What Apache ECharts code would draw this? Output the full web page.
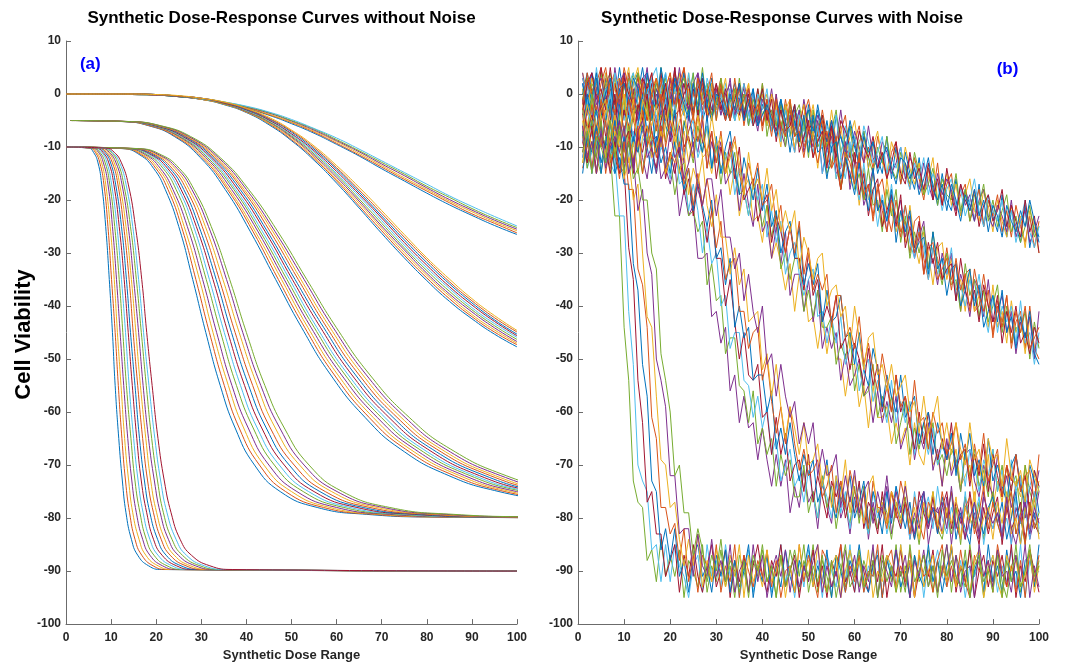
<!DOCTYPE html>
<html>
<head>
<meta charset="utf-8">
<script src="https://cdn.jsdelivr.net/npm/echarts@6/dist/echarts.min.js"></script>
<style>html,body{margin:0;padding:0;background:#fff}#chart{width:1071px;height:667px}</style>
</head>
<body>
<div id="chart"></div>
<script>
// ---------- Panel (a): smooth curves ----------
const doseGrid = [0,5,10,15,20,25,30,35,40,45,50,55,60,65,70,75,80,85,90,95,100];
// family A: 0 -> about -26 at dose 100 (tight bundle)
const famA = [
[0,0,0,-0.1,-0.2,-0.5,-1.0,-1.7,-2.7,-4.0,-5.6,-7.4,-9.5,-11.7,-14.1,-16.4,-18.7,-20.9,-22.9,-24.8,-26.5],
[0,0,0,-0.1,-0.2,-0.5,-1.0,-1.7,-2.6,-3.9,-5.4,-7.2,-9.3,-11.5,-13.8,-16.1,-18.3,-20.5,-22.6,-24.4,-26.2],
[0,0,0,-0.1,-0.2,-0.5,-0.9,-1.6,-2.5,-3.8,-5.3,-7.0,-9.0,-11.2,-13.5,-15.8,-18.0,-20.2,-22.2,-24.1,-25.8],
[0,0,0,-0.1,-0.2,-0.5,-0.9,-1.6,-2.5,-3.6,-5.1,-6.8,-8.8,-10.9,-13.2,-15.4,-17.7,-19.9,-21.9,-23.8,-25.5],
[0,0,0,-0.1,-0.2,-0.5,-0.9,-1.5,-2.4,-3.5,-5.0,-6.6,-8.6,-10.7,-12.9,-15.1,-17.4,-19.5,-21.6,-23.5,-25.2],
[0,0,0,-0.1,-0.2,-0.4,-0.8,-1.5,-2.3,-3.4,-4.8,-6.5,-8.3,-10.4,-12.6,-14.8,-17.0,-19.2,-21.2,-23.1,-24.9]
];
// family B: 0 -> about -46 at dose 100
const famB = [
[0,0,0,0,-0.2,-0.5,-1.0,-2.0,-3.5,-5.8,-8.8,-12.5,-16.8,-21.5,-26.3,-30.9,-35.2,-39.1,-42.4,-45.3,-47.7],
[0,0,0,0,-0.2,-0.4,-1.0,-1.9,-3.4,-5.6,-8.6,-12.2,-16.4,-21.1,-25.8,-30.4,-34.7,-38.6,-42.0,-44.9,-47.3],
[0,0,0,0,-0.2,-0.4,-1.0,-1.9,-3.4,-5.5,-8.3,-11.9,-16.1,-20.6,-25.3,-29.9,-34.2,-38.1,-41.6,-44.5,-47.0],
[0,0,0,0,-0.2,-0.4,-0.9,-1.8,-3.3,-5.3,-8.1,-11.6,-15.7,-20.2,-24.9,-29.4,-33.8,-37.7,-41.1,-44.1,-46.7],
[0,0,0,0,-0.1,-0.4,-0.9,-1.8,-3.2,-5.2,-7.9,-11.3,-15.3,-19.8,-24.4,-29.0,-33.3,-37.2,-40.7,-43.7,-46.3],
[0,0,0,0,-0.1,-0.4,-0.9,-1.7,-3.1,-5.0,-7.7,-11.0,-15.0,-19.3,-23.9,-28.5,-32.8,-36.7,-40.3,-43.3,-45.9],
[0,0,0,0,-0.1,-0.4,-0.8,-1.7,-3.0,-4.9,-7.5,-10.7,-14.6,-18.9,-23.4,-28.0,-32.3,-36.3,-39.8,-42.9,-45.6],
[0,0,0,0,-0.1,-0.4,-0.8,-1.6,-2.9,-4.7,-7.2,-10.4,-14.2,-18.5,-23.0,-27.5,-31.8,-35.8,-39.4,-42.6,-45.3],
[0,0,0,0,-0.1,-0.4,-0.8,-1.6,-2.8,-4.6,-7.0,-10.1,-13.9,-18.1,-22.5,-27.0,-31.3,-35.4,-39.0,-42.2,-44.9],
[0,0,0,0,-0.1,-0.3,-0.8,-1.5,-2.7,-4.4,-6.8,-9.8,-13.5,-17.6,-22.0,-26.5,-30.9,-34.9,-38.6,-41.8,-44.6]
];
// families C, D, E: the dose at which each curve crosses each viability level
const levelsC = [-5,-5.2,-6,-8,-12,-18,-26,-35,-44,-53,-61,-67,-72,-75,-77];
const famC = [
[1,12.5,18.4,24.0,29.8,35.3,40.9,46.5,52.2,58.7,66.3,74.2,84.9,96.0,109.1],
[1,12.7,18.6,24.3,30.2,35.8,41.5,47.1,52.9,59.5,67.2,75.3,86.1,97.3,110.6],
[1,12.8,18.9,24.7,30.6,36.2,42.0,47.8,53.6,60.3,68.1,76.3,87.3,98.6,112.1],
[1,13.0,19.1,25.0,31.0,36.7,42.6,48.4,54.3,61.1,69.0,77.3,88.4,99.9,113.6],
[1,13.2,19.4,25.3,31.4,37.2,43.1,49.0,55.0,61.9,69.9,78.3,89.6,101.3,115.1],
[1,13.3,19.6,25.6,31.8,37.6,43.6,49.6,55.6,62.6,70.7,79.2,90.6,102.4,116.4],
[1,13.5,19.9,25.9,32.2,38.1,44.2,50.2,56.4,63.4,71.6,80.2,91.7,103.7,117.8],
[1,13.7,20.1,26.3,32.6,38.6,44.7,50.8,57.1,64.2,72.5,81.2,92.9,105.0,119.3],
[1,13.8,20.4,26.6,33.0,39.1,45.3,51.5,57.8,65.0,73.4,82.2,94.1,106.3,120.8],
[1,14.0,20.6,26.9,33.4,39.5,45.9,52.1,58.5,65.8,74.3,83.2,95.2,107.6,122.3],
[1,14.2,20.9,27.2,33.8,40.0,46.4,52.8,59.2,66.6,75.2,84.2,96.4,108.9,123.8],
[1,14.3,21.1,27.6,34.2,40.5,47.0,53.4,59.9,67.4,76.1,85.3,97.6,110.3,125.3]
];
const levelsD = [-10,-10.3,-11.5,-14,-18,-25,-35,-45,-55,-63,-70,-75,-78,-79.3,-79.8,-80];
const famD = [
[0,12.5,16.4,19.4,22.0,25.0,28.1,31.0,34.2,37.5,41.8,47.5,55.7,66.7,81.6,130],
[0,12.8,16.8,19.9,22.6,25.6,28.8,31.8,35.1,38.4,42.9,48.7,57.1,68.4,83.7,130],
[0,13.1,17.2,20.4,23.2,26.2,29.6,32.6,36.0,39.4,43.9,50.0,58.5,70.1,85.8,130],
[0,13.5,17.7,20.9,23.7,26.9,30.3,33.4,36.8,40.4,45.0,51.2,60.0,71.8,87.9,130],
[0,13.8,18.1,21.5,24.4,27.6,31.1,34.3,37.8,41.5,46.2,52.6,61.6,73.8,90.2,130],
[0,14.1,18.6,22.0,25.0,28.3,31.8,35.1,38.7,42.4,47.3,53.8,63.0,75.5,92.3,130],
[0,14.5,19.0,22.5,25.5,28.9,32.6,35.9,39.6,43.4,48.4,55.0,64.5,77.2,94.5,130],
[0,14.8,19.4,23.0,26.1,29.5,33.3,36.7,40.5,44.4,49.5,56.3,65.9,78.9,96.6,130],
[0,15.1,19.8,23.5,26.7,30.2,34.0,37.5,41.4,45.3,50.6,57.5,67.4,80.7,98.7,130],
[0,15.5,20.3,24.1,27.3,30.9,34.8,38.4,42.4,46.4,51.8,58.9,69.0,82.6,101,130],
[0,15.8,20.7,24.6,27.9,31.6,35.6,39.2,43.2,47.4,52.8,60.1,70.4,84.3,103,130],
[0,16.1,21.2,25.1,28.4,32.2,36.3,40.0,44.1,48.4,53.9,61.3,71.8,86.0,105,130]
];
const levelsE = [-10,-10.2,-11,-13,-17,-25,-35,-45,-55,-65,-73,-79,-84,-87,-89,-89.7,-90];
const famE = [
[0,5.0,6.1,7.1,7.9,8.8,9.6,10.3,10.9,11.7,12.5,13.3,14.5,15.9,18.3,21.2,100],
[0,5.3,6.5,7.5,8.4,9.3,10.1,10.9,11.6,12.4,13.2,14.1,15.3,16.8,19.3,22.4,100],
[0,5.6,6.8,7.9,8.8,9.8,10.7,11.4,12.2,13.0,13.9,14.8,16.2,17.7,20.4,23.6,100],
[0,5.9,7.2,8.3,9.3,10.3,11.2,12.0,12.8,13.7,14.6,15.6,17.0,18.6,21.4,24.8,100],
[0,6.1,7.5,8.7,9.7,10.8,11.8,12.6,13.4,14.4,15.3,16.4,17.8,19.5,22.4,26.0,100],
[0,6.4,7.9,9.1,10.1,11.3,12.3,13.2,14.0,15.0,16.0,17.1,18.6,20.4,23.5,27.2,100],
[0,6.7,8.2,9.5,10.6,11.8,12.9,13.8,14.7,15.7,16.7,17.9,19.4,21.3,24.5,28.4,100],
[0,7.0,8.6,9.9,11.0,12.3,13.4,14.3,15.3,16.3,17.4,18.6,20.3,22.2,25.5,29.6,100],
[0,7.3,8.9,10.3,11.5,12.8,14.0,14.9,15.9,17.0,18.1,19.4,21.1,23.1,26.6,30.8,100],
[0,7.6,9.3,10.7,11.9,13.3,14.5,15.5,16.5,17.7,18.8,20.1,21.9,24.0,27.6,32.0,100],
[0,7.9,9.6,11.1,12.4,13.8,15.0,16.1,17.1,18.3,19.6,20.9,22.7,24.9,28.7,33.2,100],
[0,8.1,10.0,11.5,12.8,14.3,15.6,16.7,17.8,19.0,20.3,21.6,23.5,25.8,29.7,34.4,100],
[0,8.4,10.3,11.9,13.3,14.8,16.1,17.2,18.4,19.7,21.0,22.4,24.4,26.7,30.7,35.6,100],
[0,8.8,10.7,12.3,13.8,15.4,16.8,17.9,19.1,20.4,21.8,23.3,25.3,27.8,31.9,37.0,100]
];

// ---------- Panel (b): noisy curves, one value per dose 1..100 ----------
const noisyDose = [1,2,3,4,5,6,7,8,9,10,11,12,13,14,15,16,17,18,19,20,21,22,23,24,25,26,27,28,29,30,31,32,33,34,35,36,37,38,39,40,41,42,43,44,45,46,47,48,49,50,51,52,53,54,55,56,57,58,59,60,61,62,63,64,65,66,67,68,69,70,71,72,73,74,75,76,77,78,79,80,81,82,83,84,85,86,87,88,89,90,91,92,93,94,95,96,97,98,99,100];
const noisyA = [
[2,-3,4,1,-4,3,0,-2,5,-1,-4,2,4,-3,1,-5,3,-1,2,-2,4,0,-3,2,-4,3,1,-4,2,-3,1,-5,-1,2,-4,0,-6,1,-5,0,-3,-6,-1,-7,-2,-8,-3,-5,-9,-2,-7,-3,-10,-5,-11,-4,-8,-12,-6,-10,-13,-7,-14,-9,-12,-15,-8,-16,-10,-17,-11,-15,-18,-12,-19,-14,-17,-21,-15,-20,-22,-16,-23,-18,-21,-24,-17,-25,-20,-23,-26,-19,-27,-22,-25,-28,-21,-29,-24,-27],
[-1,3,-4,2,5,-2,1,-3,0,4,-2,-5,1,3,-1,4,-3,2,-4,0,3,-2,5,-4,0,2,-3,1,-5,-1,3,-4,0,-3,2,-5,1,-2,-6,2,-5,0,-3,-7,-1,-6,-2,-9,-4,-1,-6,-9,-3,-8,-5,-11,-7,-4,-12,-9,-6,-13,-10,-14,-8,-12,-16,-11,-9,-17,-13,-18,-12,-16,-20,-14,-19,-13,-21,-17,-15,-22,-19,-17,-24,-21,-18,-25,-20,-23,-19,-26,-22,-27,-21,-25,-28,-23,-29,-24],
[4,0,-3,3,-1,-5,2,4,-2,1,5,-3,0,-4,2,-1,3,-5,1,4,-2,1,-4,4,-3,0,3,-2,-5,1,-3,0,-5,1,-2,-4,2,-6,-1,-3,0,-5,-2,-8,-3,-1,-7,-4,-9,-6,-2,-8,-5,-10,-3,-9,-6,-12,-8,-5,-11,-8,-14,-10,-7,-13,-15,-9,-12,-16,-10,-14,-17,-13,-19,-16,-12,-20,-18,-15,-21,-17,-23,-19,-16,-22,-24,-18,-21,-26,-20,-24,-27,-21,-26,-23,-29,-22,-25,-30],
[-3,1,4,-2,0,3,-4,5,-1,2,-3,1,-5,3,4,-2,0,-4,2,-1,5,-3,2,-1,-5,4,0,-3,2,-4,0,-2,3,-5,-1,1,-4,0,-5,-2,-4,1,-6,-3,-8,-2,-5,-8,-1,-6,-8,-4,-6,-11,-5,-9,-3,-10,-12,-7,-10,-13,-6,-12,-14,-9,-11,-15,-13,-10,-16,-12,-14,-18,-13,-17,-20,-15,-19,-16,-18,-22,-17,-21,-19,-24,-20,-18,-23,-25,-21,-23,-26,-20,-27,-24,-22,-28,-26,-23],
[1,-4,2,0,4,-3,-1,3,-5,2,0,4,-2,-4,3,1,-3,5,-1,-3,1,4,-1,-4,2,-2,5,-3,0,-5,2,-3,-1,-5,3,-3,-1,-6,1,-4,-2,-5,-1,-6,-3,-8,-4,-2,-7,-3,-9,-6,-4,-10,-7,-3,-11,-8,-6,-13,-9,-7,-12,-15,-10,-13,-8,-14,-16,-11,-14,-17,-11,-15,-19,-17,-14,-21,-16,-19,-20,-15,-22,-18,-24,-19,-21,-17,-24,-20,-25,-22,-19,-26,-23,-28,-25,-21,-27,-25],
[-2,2,-5,1,-1,4,0,-3,3,-4,4,-1,1,-4,-2,3,5,-2,-4,1,-1,3,-4,0,4,-5,-1,2,-3,0,-4,2,-2,-5,0,-3,-5,0,-4,1,-6,-3,-5,-1,-7,-4,-6,-3,-9,-5,-4,-7,-10,-6,-8,-4,-12,-6,-11,-8,-12,-6,-9,-13,-11,-8,-15,-12,-14,-10,-15,-18,-13,-16,-12,-19,-15,-17,-22,-18,-16,-21,-18,-23,-20,-16,-22,-25,-19,-22,-24,-20,-25,-22,-28,-24,-20,-26,-29,-25],
[3,-1,1,-4,5,0,-3,2,-2,4,-4,0,3,-1,-5,2,-2,4,-3,3,-3,0,2,-3,1,-4,3,-1,-4,2,-2,-5,1,-3,-4,2,-2,-4,1,-6,-1,-4,-7,-2,-5,-3,-8,-6,-2,-7,-5,-8,-4,-9,-6,-12,-5,-7,-10,-13,-7,-10,-12,-8,-14,-11,-16,-13,-9,-15,-17,-11,-16,-14,-18,-13,-20,-16,-21,-14,-19,-23,-17,-20,-22,-18,-25,-21,-19,-24,-22,-18,-25,-21,-24,-27,-20,-26,-23,-30],
[0,4,-2,3,-4,1,2,-5,1,-1,2,-4,0,5,-1,-3,1,-2,4,-5,2,-1,4,-2,-3,1,-5,-2,3,-2,1,-3,-5,0,-1,-4,0,-3,-6,-2,-3,-7,-4,-1,-6,-5,-2,-9,-5,-3,-8,-2,-7,-9,-5,-10,-8,-11,-5,-9,-14,-8,-11,-9,-15,-12,-10,-14,-17,-12,-13,-16,-14,-19,-16,-12,-18,-20,-17,-22,-17,-20,-24,-19,-22,-18,-23,-20,-26,-21,-23,-27,-21,-24,-26,-22,-25,-20,-24,-28]
];
const noisyB = [
[-3,2,0,4,-1,-4,3,1,-2,5,1,-3,4,-5,2,0,-2,3,-4,1,4,-2,-4,3,0,-3,2,-4,1,-2,2,-5,0,-3,1,-6,-1,-5,0,-7,-1,-6,0,-9,-5,-3,-11,-5,-10,-7,-12,-7,-5,-12,-14,-8,-18,-13,-11,-17,-12,-20,-17,-24,-18,-16,-22,-26,-20,-26,-24,-30,-24,-23,-31,-35,-29,-31,-35,-29,-35,-32,-41,-34,-33,-41,-40,-34,-40,-45,-39,-43,-38,-48,-43,-41,-48,-40,-48,-50],
[1,-4,3,0,-2,4,-5,2,3,-1,-3,2,5,-2,-4,1,3,-1,-5,2,0,4,-3,1,-5,3,-1,-4,2,-3,-1,3,-4,0,-5,-1,2,-6,-2,0,-6,0,-5,-10,-2,-6,-10,-5,-2,-11,-7,-14,-7,-13,-7,-16,-13,-9,-17,-13,-21,-14,-20,-15,-21,-25,-16,-22,-26,-22,-28,-21,-28,-32,-26,-30,-36,-29,-28,-35,-31,-37,-35,-41,-33,-41,-38,-37,-44,-36,-44,-41,-47,-39,-45,-42,-49,-42,-48,-46],
[4,-2,-5,1,3,-1,0,-4,2,4,-1,-4,2,0,5,-3,1,-2,-5,3,-2,5,-1,-3,2,4,-4,0,-3,1,-4,0,2,-4,-1,-5,1,-3,-7,-1,-4,-7,0,-7,-10,-4,-7,-3,-11,-7,-10,-5,-15,-10,-8,-15,-14,-9,-18,-13,-13,-21,-18,-14,-22,-20,-26,-19,-24,-20,-27,-23,-31,-27,-24,-33,-31,-36,-30,-34,-30,-39,-34,-37,-42,-35,-37,-42,-35,-43,-41,-38,-45,-41,-49,-43,-46,-42,-50,-41],
[-1,3,1,-3,-5,2,4,-2,0,-4,3,-1,4,1,-3,-5,2,0,3,-2,-4,1,3,-2,4,-5,0,2,-4,-2,3,-2,-5,1,-3,0,-6,-1,-4,2,-8,-3,-6,-2,-10,-2,-7,-10,-5,-12,-3,-10,-8,-15,-13,-9,-18,-13,-10,-18,-15,-20,-14,-21,-20,-26,-18,-23,-18,-28,-23,-31,-26,-30,-25,-33,-26,-32,-36,-30,-36,-35,-41,-32,-38,-35,-42,-37,-43,-40,-36,-45,-40,-47,-44,-45,-41,-50,-43,-48],
[3,0,-4,5,-2,1,-3,4,-1,-5,2,4,-2,-4,0,3,-5,1,4,-3,1,-1,-4,4,-2,2,-5,3,0,-4,0,-3,1,-5,-2,2,-4,-6,0,-3,1,-7,-3,-9,-3,-8,-11,-4,-7,-9,-11,-6,-15,-11,-9,-16,-12,-16,-9,-16,-20,-13,-20,-18,-25,-19,-24,-17,-24,-24,-21,-28,-31,-25,-29,-35,-29,-34,-31,-34,-29,-38,-36,-40,-35,-39,-34,-41,-45,-38,-45,-40,-43,-40,-47,-39,-47,-45,-51,-45],
[-4,2,4,-1,1,-3,5,-2,-4,3,0,-2,-5,3,1,4,-3,-1,2,-4,5,-3,0,2,-4,1,3,-5,-1,2,-3,1,-5,-1,2,-4,0,-6,-3,1,-5,-1,-9,-3,-7,-6,-2,-11,-8,-5,-12,-9,-7,-14,-6,-13,-18,-12,-16,-11,-19,-15,-23,-18,-16,-25,-22,-19,-25,-19,-29,-25,-29,-24,-34,-28,-32,-28,-35,-33,-32,-39,-31,-37,-40,-37,-43,-36,-40,-43,-38,-47,-41,-45,-40,-47,-45,-49,-44,-47],
[2,-3,-1,4,-4,0,3,-5,1,2,-2,3,1,-4,4,-1,-3,5,0,-5,3,1,-2,-5,2,-3,4,-2,-5,0,-1,-4,0,-3,2,-5,-2,1,-6,-4,-2,-5,-8,-1,-5,-11,-5,-9,-4,-11,-4,-11,-10,-16,-10,-9,-16,-12,-15,-19,-13,-17,-22,-14,-22,-20,-24,-18,-28,-22,-26,-22,-30,-28,-27,-34,-26,-33,-31,-38,-33,-32,-40,-37,-33,-40,-36,-44,-41,-38,-43,-37,-45,-42,-48,-42,-46,-41,-49,-51],
[-2,4,0,-3,2,5,-1,-4,3,-2,4,-1,-3,2,-5,0,3,-2,1,4,-3,2,5,-1,-4,3,-2,0,4,-5,1,-2,-5,3,-3,-1,1,-4,-2,-6,-3,-8,-1,-6,-8,-1,-8,-7,-12,-6,-9,-13,-8,-7,-14,-12,-18,-11,-13,-17,-11,-19,-17,-23,-17,-22,-26,-20,-23,-27,-21,-26,-30,-26,-34,-29,-28,-35,-33,-31,-37,-31,-37,-34,-41,-33,-38,-41,-37,-46,-40,-44,-38,-47,-41,-45,-40,-48,-46,-44]
];
const noisyC = [
[-2,-6,-1,-9,-5,-3,-10,-4,-8,0,-7,-1,-10,-4,-2,-9,-6,-10,-4,-7,-3,-10,-7,-13,-7,-4,-12,-11,-15,-9,-14,-12,-19,-14,-23,-18,-16,-24,-23,-28,-21,-31,-28,-32,-37,-32,-41,-34,-35,-43,-42,-48,-42,-49,-43,-50,-50,-57,-51,-51,-59,-55,-63,-55,-61,-61,-59,-66,-62,-66,-63,-70,-62,-68,-70,-63,-70,-68,-74,-67,-71,-67,-74,-72,-70,-77,-70,-75,-68,-78,-73,-77,-70,-80,-73,-76,-70,-79,-76,-73],
[-9,-3,-5,0,-7,-10,-2,-6,-1,-4,-2,-9,-3,-7,-10,-2,-5,-9,-1,-6,-10,-6,-13,-4,-8,-11,-5,-14,-9,-13,-9,-17,-15,-14,-22,-15,-21,-25,-17,-26,-24,-31,-25,-32,-26,-38,-34,-34,-41,-35,-43,-37,-48,-44,-48,-45,-54,-49,-55,-53,-50,-57,-55,-62,-56,-62,-58,-62,-57,-67,-64,-61,-69,-64,-67,-62,-71,-67,-74,-65,-72,-69,-75,-68,-67,-73,-76,-70,-73,-76,-68,-76,-72,-78,-74,-72,-80,-74,-76,-71],
[-3,-8,0,-6,-9,-5,-2,-10,-4,-1,-10,-4,-2,-7,-1,-10,-6,-4,-9,-1,-7,-11,-5,-9,-13,-6,-11,-6,-14,-10,-17,-11,-15,-11,-19,-18,-23,-17,-20,-25,-21,-27,-22,-33,-30,-35,-31,-31,-41,-37,-42,-37,-44,-44,-42,-51,-47,-50,-45,-56,-51,-57,-56,-51,-61,-57,-61,-57,-66,-62,-58,-68,-63,-67,-62,-67,-62,-70,-68,-72,-67,-69,-75,-67,-72,-67,-74,-71,-76,-67,-75,-70,-77,-74,-72,-79,-70,-75,-78,-74],
[-6,-1,-8,-3,-10,-4,0,-7,-5,-9,-2,-10,-5,-1,-7,-10,-4,-7,-1,-9,-2,-9,-12,-7,-5,-12,-9,-6,-14,-9,-15,-12,-10,-19,-14,-18,-23,-16,-20,-17,-27,-22,-28,-24,-34,-30,-28,-34,-38,-35,-33,-42,-41,-47,-42,-47,-42,-51,-48,-47,-56,-52,-50,-58,-54,-58,-62,-54,-62,-58,-62,-58,-68,-62,-64,-68,-63,-70,-66,-69,-64,-70,-68,-74,-67,-70,-75,-69,-72,-67,-75,-71,-78,-69,-75,-72,-78,-74,-71,-75],
[-1,-7,-4,-10,-2,-8,-5,0,-9,-3,-6,-9,-2,-5,0,-7,-11,-5,-2,-9,-4,-3,-10,-8,-12,-3,-9,-11,-7,-16,-10,-15,-9,-16,-10,-20,-18,-16,-24,-21,-19,-28,-23,-26,-30,-25,-31,-31,-37,-30,-38,-35,-43,-40,-43,-38,-48,-46,-52,-47,-50,-55,-48,-55,-51,-60,-55,-60,-53,-60,-57,-62,-67,-60,-66,-60,-65,-69,-65,-69,-62,-71,-68,-67,-74,-68,-72,-66,-75,-68,-72,-76,-70,-75,-68,-75,-72,-79,-71,-74],
[-8,0,-6,-3,-9,-5,-1,-10,-2,-7,-4,-9,-6,0,-8,-3,-11,-1,-6,-8,-3,-12,-6,-3,-10,-8,-11,-4,-14,-8,-15,-10,-7,-14,-19,-12,-16,-20,-14,-22,-17,-25,-22,-30,-26,-24,-31,-25,-36,-32,-36,-32,-43,-37,-43,-42,-38,-46,-45,-51,-45,-52,-55,-48,-52,-59,-53,-57,-60,-53,-61,-59,-57,-66,-62,-60,-68,-62,-66,-69,-64,-72,-64,-69,-64,-72,-69,-74,-65,-73,-70,-74,-77,-70,-68,-74,-77,-70,-73,-79],
[-4,-10,-2,-7,-1,-6,-9,-3,0,-8,-1,-5,-8,-3,-10,-2,-7,0,-10,-5,-8,-1,-11,-7,-4,-9,-4,-14,-7,-13,-7,-15,-11,-8,-15,-19,-13,-17,-13,-21,-20,-17,-25,-21,-30,-25,-30,-24,-34,-29,-37,-34,-37,-34,-44,-38,-38,-46,-44,-48,-42,-51,-47,-52,-56,-49,-54,-60,-53,-59,-57,-63,-54,-62,-61,-67,-60,-64,-62,-68,-66,-62,-69,-66,-73,-66,-71,-64,-73,-70,-67,-76,-70,-73,-68,-75,-72,-71,-77,-68],
[-7,-2,-5,-10,-3,-1,-8,-4,-9,0,-8,-3,-10,-1,-4,-6,-2,-10,-6,-1,-10,-5,-3,-9,-12,-4,-8,-11,-4,-10,-8,-15,-12,-9,-13,-19,-11,-18,-16,-20,-14,-22,-18,-26,-22,-26,-22,-33,-27,-30,-35,-31,-30,-40,-37,-36,-42,-40,-48,-40,-46,-52,-46,-45,-53,-51,-56,-51,-57,-55,-53,-60,-58,-64,-57,-64,-61,-57,-67,-62,-68,-62,-67,-70,-62,-69,-67,-73,-65,-69,-68,-74,-65,-72,-74,-71,-77,-69,-72,-75]
];
const noisyD = [
[-6,-12,-9,-15,-7,-10,-14,-8,-5,-13,-9,-14,-7,-12,-16,-9,-8,-16,-14,-17,-13,-23,-18,-23,-21,-31,-31,-30,-42,-41,-47,-44,-56,-53,-62,-57,-63,-62,-69,-63,-69,-74,-68,-74,-69,-79,-74,-78,-71,-77,-75,-82,-73,-78,-81,-73,-80,-77,-83,-76,-80,-75,-84,-77,-82,-79,-74,-83,-78,-81,-77,-84,-79,-82,-75,-85,-80,-78,-83,-76,-85,-78,-81,-76,-83,-79,-84,-75,-80,-82,-79,-83,-76,-85,-78,-81,-77,-84,-80,-75],
[-13,-9,-5,-12,-15,-8,-10,-14,-7,-11,-6,-12,-10,-15,-8,-10,-15,-7,-14,-12,-19,-14,-13,-23,-22,-26,-24,-36,-32,-39,-38,-49,-46,-46,-55,-56,-62,-56,-66,-63,-68,-65,-74,-68,-72,-69,-76,-76,-70,-79,-75,-80,-72,-78,-74,-82,-76,-78,-81,-74,-81,-74,-83,-78,-82,-76,-79,-84,-77,-80,-76,-83,-80,-85,-78,-81,-75,-82,-84,-79,-83,-78,-85,-76,-80,-82,-77,-84,-79,-75,-81,-84,-78,-75,-83,-80,-85,-77,-82,-79],
[-8,-14,-11,-7,-10,-5,-13,-15,-9,-6,-12,-7,-15,-9,-7,-12,-15,-10,-12,-16,-9,-17,-16,-22,-17,-22,-30,-25,-32,-30,-40,-38,-48,-45,-45,-54,-55,-61,-57,-63,-59,-68,-65,-73,-70,-67,-74,-72,-77,-71,-76,-80,-73,-76,-80,-72,-79,-75,-82,-77,-74,-80,-83,-75,-80,-77,-83,-79,-74,-82,-78,-84,-75,-81,-79,-76,-82,-74,-80,-83,-78,-81,-84,-75,-83,-80,-76,-85,-79,-82,-77,-83,-80,-85,-76,-81,-78,-84,-75,-82],
[-11,-6,-14,-10,-8,-13,-5,-12,-15,-9,-7,-15,-8,-11,-6,-11,-14,-6,-16,-11,-15,-10,-19,-16,-23,-17,-22,-28,-22,-31,-31,-40,-35,-43,-50,-45,-53,-54,-51,-61,-60,-68,-61,-68,-64,-73,-70,-69,-75,-68,-77,-72,-76,-80,-73,-76,-73,-80,-76,-79,-73,-82,-77,-79,-83,-75,-81,-75,-79,-82,-77,-80,-84,-75,-79,-82,-76,-83,-78,-75,-82,-77,-80,-84,-75,-81,-85,-78,-83,-79,-76,-85,-78,-82,-80,-77,-84,-79,-81,-83],
[-7,-13,-10,-6,-15,-9,-12,-5,-14,-8,-15,-8,-11,-6,-10,-15,-8,-13,-10,-15,-9,-14,-18,-14,-22,-16,-21,-25,-20,-31,-29,-36,-31,-44,-40,-46,-44,-54,-53,-53,-60,-56,-67,-63,-68,-62,-68,-73,-68,-72,-69,-77,-74,-69,-77,-80,-74,-77,-72,-80,-77,-73,-81,-75,-78,-83,-75,-81,-74,-78,-82,-77,-84,-79,-75,-81,-78,-83,-76,-80,-75,-84,-79,-82,-85,-77,-80,-83,-78,-76,-81,-77,-84,-80,-75,-85,-78,-82,-79,-83],
[-14,-10,-7,-12,-5,-15,-9,-6,-11,-13,-8,-13,-6,-15,-10,-7,-12,-6,-15,-11,-13,-9,-17,-14,-21,-15,-21,-16,-22,-29,-24,-35,-32,-31,-41,-41,-48,-45,-44,-54,-50,-58,-64,-59,-66,-59,-66,-71,-67,-72,-71,-69,-76,-74,-70,-79,-73,-78,-71,-75,-79,-75,-82,-73,-78,-78,-82,-75,-80,-73,-77,-83,-76,-81,-84,-77,-79,-82,-75,-80,-75,-81,-84,-78,-76,-83,-79,-74,-82,-77,-81,-84,-78,-75,-83,-79,-85,-77,-82,-80],
[-5,-12,-9,-15,-8,-11,-14,-7,-10,-6,-13,-9,-15,-8,-6,-12,-10,-7,-15,-12,-8,-15,-11,-19,-14,-17,-12,-21,-25,-19,-27,-27,-34,-29,-36,-33,-43,-42,-41,-52,-49,-57,-51,-59,-65,-59,-63,-68,-62,-70,-69,-66,-74,-70,-78,-72,-76,-69,-79,-72,-77,-81,-74,-72,-79,-77,-81,-75,-77,-81,-73,-81,-78,-84,-77,-80,-75,-81,-83,-78,-81,-76,-84,-78,-81,-75,-83,-80,-78,-84,-77,-81,-75,-83,-80,-85,-78,-82,-76,-84],
[-12,-7,-15,-10,-6,-13,-9,-11,-5,-14,-9,-14,-7,-5,-12,-10,-15,-8,-14,-7,-12,-10,-16,-13,-9,-18,-21,-16,-16,-23,-18,-27,-27,-33,-30,-39,-34,-41,-45,-40,-51,-49,-57,-51,-57,-61,-58,-66,-62,-66,-62,-72,-67,-72,-71,-68,-78,-72,-77,-71,-79,-75,-73,-81,-75,-79,-72,-80,-75,-79,-74,-80,-83,-77,-75,-82,-78,-79,-77,-82,-74,-82,-78,-84,-80,-77,-83,-76,-79,-81,-79,-84,-76,-82,-85,-80,-77,-83,-78,-81]
];
const noisyE = [
[-7,-14,-9,-12,-5,-12,-11,-23,-23,-44,-54,-73,-77,-78,-88,-86,-92,-84,-91,-87,-91,-86,-95,-88,-90,-93,-85,-94,-89,-92,-86,-93,-89,-95,-87,-90,-94,-88,-91,-85,-92,-89,-95,-87,-93,-86,-90,-94,-88,-91,-85,-94,-88,-91,-95,-87,-89,-93,-86,-90,-93,-88,-91,-86,-95,-90,-87,-92,-85,-94,-89,-95,-87,-92,-90,-86,-94,-88,-91,-85,-94,-87,-90,-93,-85,-91,-88,-95,-89,-92,-86,-92,-95,-89,-87,-94,-90,-85,-93,-88],
[-12,-6,-15,-9,-7,-13,-11,-12,-23,-23,-41,-51,-70,-73,-75,-86,-85,-92,-85,-92,-85,-89,-91,-95,-89,-87,-94,-85,-91,-88,-93,-85,-91,-88,-95,-90,-86,-94,-89,-92,-87,-94,-90,-85,-92,-89,-95,-88,-93,-86,-91,-88,-95,-87,-90,-93,-86,-92,-85,-94,-88,-94,-89,-91,-86,-95,-87,-90,-93,-85,-92,-89,-94,-87,-95,-88,-90,-86,-91,-93,-85,-93,-88,-95,-89,-91,-86,-94,-90,-87,-94,-89,-92,-86,-93,-85,-95,-88,-91,-90],
[-9,-13,-6,-15,-8,-10,-15,-9,-15,-14,-29,-35,-54,-62,-77,-75,-83,-83,-91,-88,-85,-94,-87,-91,-85,-91,-94,-89,-85,-93,-90,-86,-95,-88,-92,-87,-94,-89,-85,-91,-94,-88,-91,-85,-93,-90,-87,-95,-89,-92,-86,-93,-89,-95,-88,-91,-85,-92,-90,-94,-87,-90,-94,-88,-92,-85,-95,-89,-91,-86,-93,-88,-95,-90,-87,-91,-86,-94,-89,-92,-85,-94,-89,-92,-86,-95,-90,-87,-93,-88,-91,-87,-93,-85,-95,-89,-92,-86,-90,-94],
[-15,-8,-11,-6,-13,-9,-5,-15,-12,-17,-17,-32,-37,-51,-57,-73,-75,-86,-82,-88,-82,-91,-88,-94,-87,-85,-91,-89,-94,-87,-91,-86,-94,-88,-93,-90,-85,-95,-89,-92,-87,-95,-89,-93,-86,-91,-94,-88,-90,-85,-93,-89,-92,-86,-95,-87,-90,-94,-88,-91,-85,-92,-94,-89,-87,-95,-88,-91,-86,-93,-90,-95,-87,-91,-93,-85,-92,-88,-94,-89,-86,-91,-93,-88,-95,-90,-87,-94,-85,-92,-89,-94,-86,-92,-90,-95,-88,-87,-93,-85],
[-8,-11,-14,-7,-10,-5,-13,-10,-16,-9,-18,-18,-33,-36,-44,-61,-65,-78,-78,-83,-81,-88,-82,-92,-87,-94,-87,-89,-92,-85,-94,-89,-92,-85,-95,-87,-90,-93,-88,-91,-86,-93,-88,-95,-90,-89,-94,-85,-92,-87,-91,-95,-86,-88,-93,-90,-85,-94,-89,-92,-87,-94,-90,-91,-85,-95,-88,-86,-93,-89,-92,-86,-95,-87,-91,-90,-94,-88,-85,-93,-89,-93,-86,-92,-95,-87,-90,-91,-88,-94,-85,-90,-93,-89,-94,-88,-95,-86,-92,-87],
[-13,-6,-10,-15,-8,-12,-5,-11,-8,-16,-12,-20,-17,-30,-42,-44,-57,-69,-70,-78,-77,-84,-89,-84,-89,-83,-93,-88,-92,-86,-89,-93,-87,-91,-85,-95,-87,-92,-89,-93,-86,-92,-90,-87,-95,-89,-94,-85,-91,-88,-93,-85,-92,-94,-89,-87,-95,-90,-86,-91,-88,-93,-86,-95,-90,-92,-87,-89,-94,-85,-91,-88,-95,-86,-93,-90,-87,-94,-89,-92,-85,-93,-89,-91,-94,-88,-86,-95,-90,-87,-92,-95,-87,-90,-88,-93,-91,-86,-94,-89],
[-6,-12,-9,-15,-7,-14,-10,-8,-11,-6,-15,-12,-22,-18,-30,-34,-50,-54,-59,-72,-72,-83,-82,-82,-91,-83,-89,-91,-84,-91,-88,-92,-85,-94,-90,-88,-94,-85,-92,-87,-95,-90,-87,-91,-86,-94,-88,-93,-89,-92,-88,-85,-94,-89,-93,-90,-95,-86,-91,-87,-94,-89,-92,-85,-95,-88,-90,-93,-86,-91,-87,-95,-88,-91,-86,-93,-89,-94,-90,-85,-92,-87,-94,-90,-89,-95,-85,-91,-88,-93,-86,-91,-90,-94,-87,-92,-85,-95,-89,-93],
[-11,-7,-15,-8,-10,-13,-5,-12,-6,-15,-9,-16,-14,-20,-20,-30,-33,-49,-54,-60,-72,-70,-79,-79,-87,-82,-86,-92,-87,-90,-84,-92,-88,-90,-94,-88,-95,-87,-90,-86,-92,-89,-95,-87,-93,-90,-86,-91,-85,-94,-89,-92,-87,-94,-88,-95,-90,-85,-93,-91,-86,-93,-91,-88,-95,-87,-92,-89,-94,-90,-94,-85,-92,-90,-87,-93,-89,-95,-86,-91,-88,-91,-93,-86,-95,-89,-87,-92,-90,-94,-87,-95,-88,-92,-85,-93,-90,-86,-91,-89]
];

// ---------- rendering ----------
const FF = '"Liberation Sans", Arial, Helvetica, sans-serif';
const matlabColors = ['#0072BD','#D95319','#EDB120','#7E2F8E','#77AC30','#4DBEEE','#A2142F'];
const series = [];
function addLine(axis, data, color, smooth) {
  const s = {type:'line', xAxisIndex:axis, yAxisIndex:axis, data:data, symbol:'none', showSymbol:false,
    lineStyle:{width:1, color:color}, itemStyle:{color:color}, silent:true, animation:false, clip:true};
  if (smooth) { s.smooth = smooth; }
  series.push(s);
}
[famA, famB].forEach(fam => fam.forEach((ys, k) =>
  addLine(0, doseGrid.map((x, i) => [x, ys[i]]), matlabColors[k % 7], 0.5)));
[[levelsC, famC], [levelsD, famD], [levelsE, famE]].forEach(([lv, fam]) => fam.forEach((xs, k) =>
  addLine(0, xs.map((x, i) => [x, lv[i]]), matlabColors[k % 7], 0.5)));
let ci = 0;
[noisyA, noisyB, noisyC, noisyD, noisyE].forEach(fam => fam.forEach(ys =>
  addLine(1, noisyDose.map((x, i) => [x, ys[i]]), matlabColors[(ci++) % 7], false)));

const axisLineStyle = {color:'#6b6b6b', width:1};
function xAx(idx) {
  return {gridIndex:idx, type:'value', min:0, max:100, interval:10,
    axisLine:{show:true, onZero:false, lineStyle:axisLineStyle},
    axisTick:{show:true, inside:true, length:5, lineStyle:axisLineStyle},
    axisLabel:{color:'#262626', fontSize:12, fontWeight:'bold', fontFamily:FF, margin:8},
    splitLine:{show:false},
    name:'Synthetic Dose Range', nameLocation:'middle', nameGap:24,
    nameTextStyle:{color:'#262626', fontSize:13, fontWeight:'bold', fontFamily:FF}};
}
function yAx(idx) {
  return {gridIndex:idx, type:'value', min:-100, max:10, interval:10,
    axisLine:{show:true, onZero:false, lineStyle:axisLineStyle},
    axisTick:{show:true, inside:true, length:5, lineStyle:axisLineStyle},
    axisLabel:{color:'#262626', fontSize:12, fontWeight:'bold', fontFamily:FF, margin:5},
    splitLine:{show:false}};
}
function txt(text, x, y, size, color, rot) {
  return {type:'text', x:x, y:y, rotation:rot || 0, silent:true,
    style:{text:text, fill:color, font:'bold ' + size + 'px ' + FF,
      align:'center', verticalAlign:'middle', textAlign:'center', textVerticalAlign:'middle'}};
}
const chart = echarts.init(document.getElementById('chart'), null, {renderer:'canvas'});
chart.setOption({
  animation:false,
  backgroundColor:'#ffffff',
  grid:[{left:66, top:41, width:451, height:586}, {left:578, top:41, width:461, height:586}],
  xAxis:[xAx(0), xAx(1)],
  yAxis:[yAx(0), yAx(1)],
  series:series,
  graphic:[
    txt('Synthetic Dose-Response Curves without Noise', 281.5, 18.5, 17, '#000'),
    txt('Synthetic Dose-Response Curves with Noise', 782, 18.5, 17, '#000'),
    txt('(a)', 90.3, 64.5, 17, '#0000ff'),
    txt('(b)', 1007.5, 69, 17, '#0000ff'),
    txt('Cell Viability', 24, 334.5, 22, '#000', Math.PI / 2)
  ]
});
</script>
</body>
</html>
